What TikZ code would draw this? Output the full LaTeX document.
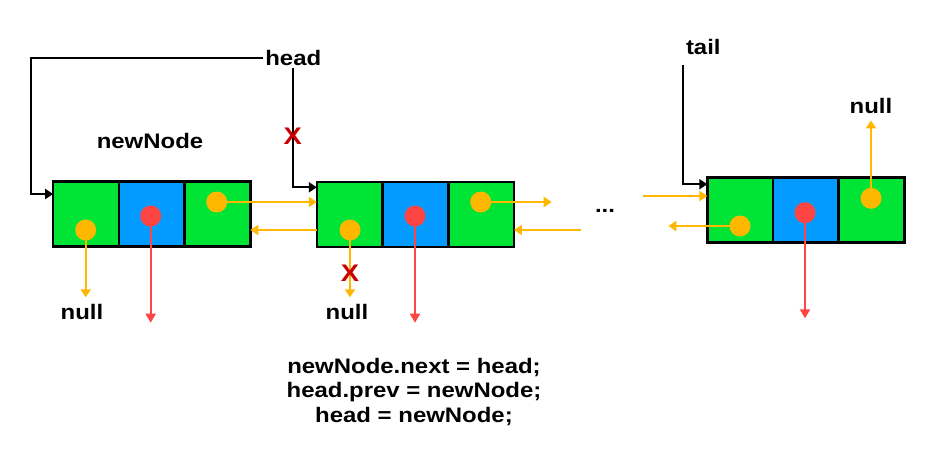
\documentclass[tikz,border=0pt]{standalone}
\usepackage{fontspec}
\setmainfont{Liberation Sans}[FakeStretch=1.14]
\usetikzlibrary{positioning, arrows.meta}
\definecolor{cellgreen}{RGB}{0,228,54}
\definecolor{cellblue}{RGB}{3,155,255}
\definecolor{ptrorange}{RGB}{255,183,0}
\definecolor{ptrred}{RGB}{255,68,68}
\definecolor{crossred}{RGB}{200,0,0}

\begin{document}
\begin{tikzpicture}[x=1pt, y=-1pt, font=\fontsize{21}{24.5}\selectfont\bfseries,
  cell/.style={draw, line width=2.6pt, rectangle, minimum width=65.7pt, minimum height=65pt, inner sep=0pt, outer sep=0pt},
  ptr/.style={circle, minimum size=21pt, inner sep=0pt},
  oarrow/.style={draw=ptrorange, line width=2pt, -{Triangle[length=8pt, width=10pt]}},
  rarrow/.style={draw=ptrred, line width=2pt, -{Triangle[length=9pt, width=10pt]}},
  barrow/.style={draw=black, line width=2pt, -{Triangle[length=8pt, width=10pt]}},
  nulltext/.style={inner sep=6.5pt},
  xmark/.style={text=crossred, inner sep=0pt, font=\fontsize{24}{24}\selectfont\bfseries}]
  \useasboundingbox (0,0) rectangle (934,458);

  % newNode
  \node[cell, fill=cellgreen] (c1a) at (86,214) {};
  \node[cell, fill=cellblue, right=0pt of c1a] (c1b) {};
  \node[cell, fill=cellgreen, right=0pt of c1b] (c1c) {};
  \node at (150,141) (lbl) {newNode};

  % old head node
  \node[cell, fill=cellgreen] (c2a) at (349.7,214.3) {};
  \node[cell, fill=cellblue, right=0pt of c2a] (c2b) {};
  \node[cell, fill=cellgreen, right=0pt of c2b] (c2c) {};

  % tail node
  \node[cell, fill=cellgreen] (c3a) at (740.2,210.2) {};
  \node[cell, fill=cellblue, right=0pt of c3a] (c3b) {};
  \node[cell, fill=cellgreen, right=0pt of c3b] (c3c) {};

  \node at (605,211) (dots) {...};

  % labels
  \node[inner sep=2pt] at (293.3,58.3) (head) {head};
  \node[inner sep=3pt] at (703.3,46.7) (tail) {tail};
  \node[nulltext] at (82,311.7) (null1) {null};
  \node[nulltext] at (347,311.7) (null2) {null};
  \node[nulltext] at (871,106) (null3) {null};

  % pointer circles
  \coordinate (d1end) at (150.7,322.7);
  \coordinate (d2end) at (415,322.7);
  \coordinate (d3end) at (805,318.3);
  \coordinate (n2end) at (551.7,202);
  \coordinate (p2start) at (581,230);
  \coordinate (n3start) at (642.7,196);
  \coordinate (p3end) at (668.3,226);
  \coordinate (hcorner) at (31,194);

  \draw[oarrow] (85.7,230) coordinate (p1c) -- (p1c |- null1.north);
  \draw[rarrow] (150.7,216) coordinate (d1c) -- (d1end);
  \draw[oarrow] (216.7,202) coordinate (n1c) -- (n1c -| c2a.west);
  \draw[oarrow] (c2a.west |- 0,230) -- (c1c.east |- 0,230);

  \draw[oarrow] (350,230) coordinate (p2c) -- (p2c |- null2.north);
  \draw[rarrow] (415,216) coordinate (d2c) -- (d2end);
  \draw[oarrow] (480.7,202) coordinate (n2c) -- (n2end);
  \draw[oarrow] (p2start) -- (p2start -| c2c.east);

  \draw[oarrow] (n3start) -- (n3start -| c3a.west);
  \draw[oarrow] (740,226) coordinate (p3c) -- (p3end);
  \draw[rarrow] (805,212.7) coordinate (d3c) -- (d3end);
  \draw[oarrow] (871,198.3) coordinate (n3c) -- (n3c |- null3.south);

  \node[ptr, fill=ptrorange] (p1) at (p1c) {};
  \node[ptr, fill=ptrred] (d1) at (d1c) {};
  \node[ptr, fill=ptrorange] (n1) at (n1c) {};
  \node[ptr, fill=ptrorange] (p2) at (p2c) {};
  \node[ptr, fill=ptrred] (d2) at (d2c) {};
  \node[ptr, fill=ptrorange] (n2) at (n2c) {};
  \node[ptr, fill=ptrorange] (p3) at (p3c) {};
  \node[ptr, fill=ptrred] (d3) at (d3c) {};
  \node[ptr, fill=ptrorange] (n3) at (n3c) {};

  % head / tail references
  \draw[barrow] (head.west) -| (hcorner) -- (hcorner -| c1a.west);
  \draw[barrow] (head.south) |- ([yshift=27pt]c2a.west);
  \draw[barrow, shorten <=7pt] (tail.south west) |- ([yshift=26pt]c3a.west);

  \node[xmark] at (292.7,136.7) (x1) {X};
  \node[xmark] at (350,273.3) (x2) {X};

  % code
  \node[align=center] at (414,392) (code) {newNode.next = head;\\head.prev = newNode;\\head = newNode;};
\end{tikzpicture}
\end{document}
